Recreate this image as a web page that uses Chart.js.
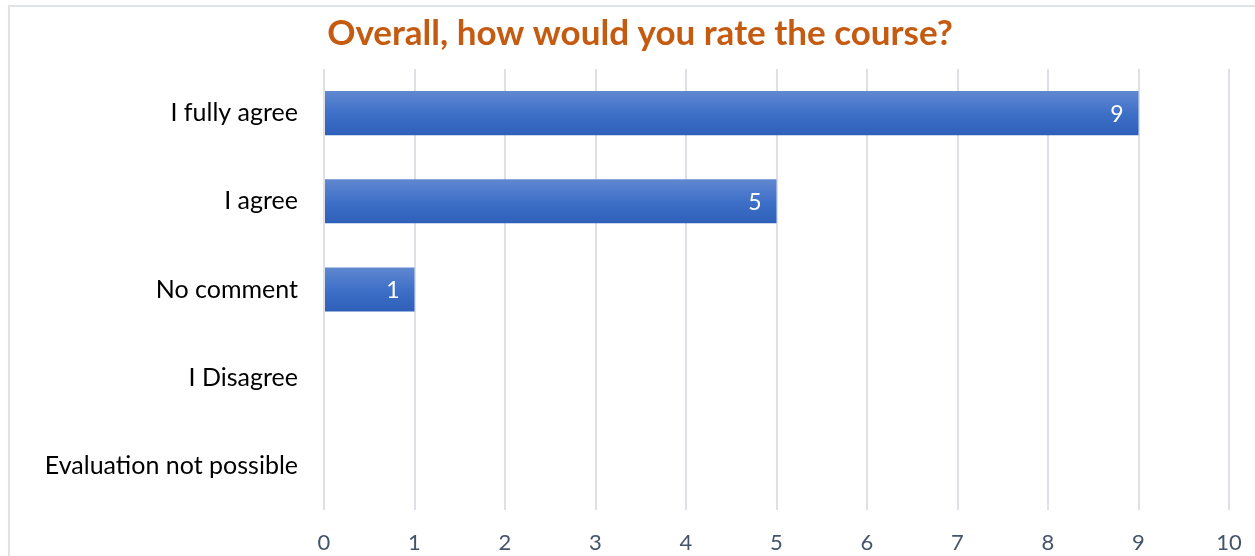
<!DOCTYPE html>
<html>
<head>
<meta charset="utf-8">
<script src="https://cdn.jsdelivr.net/npm/chart.js@4/dist/chart.umd.min.js"></script>
<style>
  body { margin: 0; background: #fff; overflow: hidden; }
  #frame { position: absolute; left: 8px; top: 5px; width: 1400px; height: 700px; border: 2px solid #dfe2e7; }
  #wrap { position: absolute; left: 0; top: 0; width: 1255px; height: 556px; }
</style>
</head>
<body>
<div id="frame"></div>
<div id="wrap"><canvas id="myChart"></canvas></div>
<script>
const categories = ['I fully agree', 'I agree', 'No comment', 'I Disagree', 'Evaluation not possible'];
const counts = [9, 5, 1, 0, 0];
const xTicks = [0, 1, 2, 3, 4, 5, 6, 7, 8, 9, 10];

const FONT = 'Lato, "Open Sans", sans-serif';

// white numbers at the inside end of each bar
const barLabels = {
  id: 'barLabels',
  afterDatasetsDraw(chart) {
    const ctx = chart.ctx;
    const meta = chart.getDatasetMeta(0);
    ctx.save();
    ctx.fillStyle = '#ffffff';
    ctx.font = '23px ' + FONT;
    ctx.textAlign = 'right';
    ctx.textBaseline = 'middle';
    meta.data.forEach((bar, i) => {
      if (!counts[i]) return;
      ctx.fillText(String(counts[i]), bar.x - 15, bar.y + 1);
    });
    ctx.restore();
  }
};

const barFill = (context) => {
  const chart = context.chart;
  if (!chart.chartArea) return '#4472C4';
  const y = chart.scales.y;
  const c = y.getPixelForValue(context.dataIndex);
  const h = (y.height / categories.length) * 0.5;
  const g = chart.ctx.createLinearGradient(0, c - h / 2, 0, c + h / 2);
  g.addColorStop(0, '#6088d0');
  g.addColorStop(0.5, '#3f70c8');
  g.addColorStop(1, '#2e60b9');
  return g;
};

new Chart('myChart', {
  type: 'bar',
  data: {
    labels: categories,
    datasets: [{
      data: counts,
      backgroundColor: barFill,
      borderWidth: 0,
      barPercentage: 0.5,
      categoryPercentage: 1
    }]
  },
  options: {
    indexAxis: 'y',
    responsive: true,
    maintainAspectRatio: false,
    animation: false,
    layout: { padding: { left: 25, right: 0, top: 0, bottom: 0 } },
    plugins: {
      legend: { display: false },
      tooltip: { enabled: false },
      title: {
        display: true,
        text: 'Overall, how would you rate the course?',
        color: '#c55a11',
        font: { family: FONT, size: 35, weight: 'bold' },
        padding: { top: 13, bottom: 14 }
      }
    },
    scales: {
      x: {
        min: 0,
        max: 10,
        afterBuildTicks: (s) => { s.ticks = xTicks.map(v => ({ value: v })); },
        afterFit: (s) => { s.height = 46; s.paddingLeft = 0; s.paddingRight = 0; },
        grid: { color: '#dde0e6', lineWidth: 2, drawTicks: false },
        border: { display: false },
        ticks: { color: '#44546a', font: { family: FONT, size: 22 }, padding: 20 }
      },
      y: {
        afterFit: (s) => { s.width = 299; },
        grid: { display: false },
        border: { display: false },
        ticks: { color: '#000000', font: { family: FONT, size: 25 }, padding: 18 }
      },
      // empty right-hand axis that only reserves space, so the title stays centred on the page
      y2: {
        position: 'right',
        afterFit: (s) => { s.width = 26; },
        grid: { display: false },
        border: { display: false },
        ticks: { display: false }
      }
    }
  },
  plugins: [barLabels]
});
</script>
</body>
</html>
